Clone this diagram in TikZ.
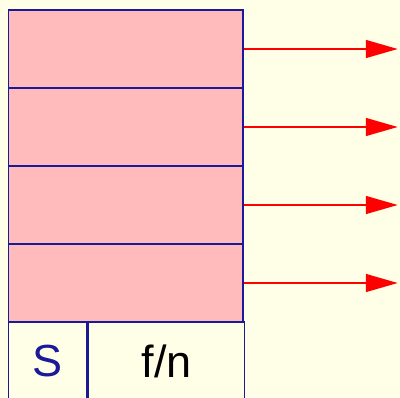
\documentclass[tikz,border=0pt]{standalone}
\usepackage{fontspec}
\setmainfont{Liberation Sans}
\usetikzlibrary{positioning,arrows.meta}

\definecolor{paper}{HTML}{FFFFE8}
\definecolor{slotfill}{HTML}{FFBBBB}
\definecolor{navy}{HTML}{1A1A99}
\definecolor{ptr}{HTML}{FF0000}

\tikzset{
  every slot/.style={draw=navy, line width=0.45mm, fill=slotfill, inner sep=0pt,
    minimum width=58.6mm, minimum height=19.5mm},
  every field/.style={draw=navy, line width=0.4mm, inner sep=0pt,
    minimum height=19.5mm, font=\fontsize{32}{36}\selectfont},
  pointer/.style={draw=ptr, line width=0.65mm,
    -{Triangle[length=8mm, width=4.4mm]}}
}

\begin{document}
\begin{tikzpicture}[x=0.25mm, y=-0.25mm]

\fill [paper] (0,0) rectangle (400,398);
\clip (0,0) rectangle (400,398);

% the four entries
\foreach \y [count=\i] in {49,127,205,283}
  \node [every slot] (slot-\i) at (125.75,\y) {};

% header row below the entries
\node [every field, minimum width=19.6mm, text=navy] (state) at (47.75,361) {S};
\node [every field, minimum width=39mm, anchor=west] (count) at (state.east) {f/n};

\foreach \i in {1,...,4}
  \draw [pointer] (slot-\i.east) -- ++(154,0) coordinate (out-\i);

\end{tikzpicture}
\end{document}
